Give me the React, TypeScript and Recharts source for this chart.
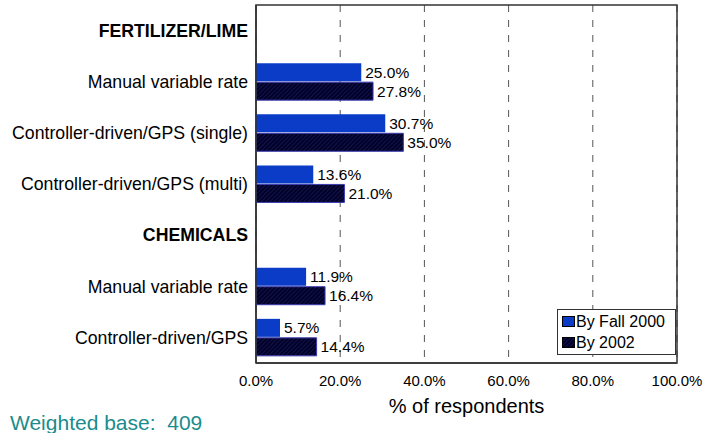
import React from 'react';
import { BarChart, Bar, XAxis, YAxis, CartesianGrid, LabelList, Legend, ReferenceArea } from 'recharts';

const categories = [
  'FERTILIZER/LIME',
  'Manual variable rate',
  'Controller-driven/GPS (single)',
  'Controller-driven/GPS (multi)',
  'CHEMICALS',
  'Manual variable rate ',
  'Controller-driven/GPS',
];
const headers = ['FERTILIZER/LIME', 'CHEMICALS'];
const byFall2000 = [null, 25.0, 30.7, 13.6, null, 11.9, 5.7];
const by2002 = [null, 27.8, 35.0, 21.0, null, 16.4, 14.4];
const xTicks = [0, 20, 40, 60, 80, 100];
const seriesNames = ['By Fall 2000', 'By 2002'];

const data = categories.map((name, i) => ({ name, fall2000: byFall2000[i], y2002: by2002[i] }));

const FONT = '"Liberation Sans", Arial, sans-serif';
const BLUE = '#0A3CC8';
const HATCH = 'url(#hatchDark)';

const pct = (v: any) => (v == null ? '' : Number(v).toFixed(1) + '%');

const YTick = (props: any) => {
  const { x, y, payload } = props;
  const isHeader = headers.includes(payload.value);
  return (
    <text x={x} y={y} dy="0.355em" textAnchor="end" fontFamily={FONT} fontSize={17.7}
      fontWeight={isHeader ? 'bold' : 'normal'} fill="#000">
      {String(payload.value).trim()}
    </text>
  );
};

const LegendContent = () => {
  const fills = [BLUE, HATCH];
  return (
    <div style={{ border: '1px solid #333', background: '#fff', width: 113, padding: '1px 0 1px 4px', fontFamily: FONT, fontSize: 16, lineHeight: '20px', boxSizing: 'content-box' }}>
      {seriesNames.map((n, i) => (
        <div key={n} style={{ display: 'flex', alignItems: 'center', height: 21 }}>
          <svg width={13} height={11} style={{ marginRight: 1 }}>
            <rect x={0.5} y={0.5} width={12} height={10} fill={fills[i]} stroke="#000" strokeWidth={1} />
          </svg>
          <span>{n}</span>
        </div>
      ))}
    </div>
  );
};

export default function App() {
  return (
    <div style={{ position: 'absolute', left: 0, top: 0, width: 705, height: 433 }}>
      <BarChart width={705} height={433} data={data} layout="vertical"
        margin={{ top: 5, right: 28, left: 0, bottom: 20 }} barSize={18} barGap={1}>
        <defs>
          <pattern id="hatchDark" patternUnits="userSpaceOnUse" width={3} height={3} patternTransform="rotate(45)">
            <rect width={3} height={3} fill="#000028" />
            <line x1={0} y1={0} x2={0} y2={3} stroke="#202060" strokeWidth={1.2} />
          </pattern>
        </defs>
        <CartesianGrid horizontal={false} stroke="#555" strokeDasharray="7 8" />
        <XAxis type="number" domain={[0, 100]} ticks={xTicks} tickFormatter={pct} tickLine={false}
          axisLine={{ stroke: '#333', strokeWidth: 1.5 }} height={50} interval={0} tickMargin={6}
          tick={{ fontFamily: FONT, fontSize: 15, fill: '#000' }}
          label={{ value: '% of respondents', position: 'insideBottom', offset: 0, fontFamily: FONT, fontSize: 20, fill: '#000' }} />
        <YAxis type="category" dataKey="name" width={256} tickLine={false} interval={0}
          axisLine={{ stroke: '#333', strokeWidth: 1.5 }} tick={<YTick />} />
        <ReferenceArea x1={0} x2={100} fill="none" stroke="#333" strokeWidth={1.5} ifOverflow="visible" />
        <Legend layout="vertical" align="center" verticalAlign="middle" content={<LegendContent />}
          wrapperStyle={{ left: 557, top: 309, width: 119, height: 46 }} />
        <Bar dataKey="fall2000" name={seriesNames[0]} fill={BLUE} isAnimationActive={false}>
          <LabelList dataKey="fall2000" position="right" offset={4} formatter={pct}
            style={{ fontFamily: FONT, fontSize: 15.5, fill: '#000' }} />
        </Bar>
        <Bar dataKey="y2002" name={seriesNames[1]} fill={HATCH} stroke="#3a3ab0" strokeWidth={1} isAnimationActive={false}>
          <LabelList dataKey="y2002" position="right" offset={4} formatter={pct}
            style={{ fontFamily: FONT, fontSize: 15.5, fill: '#000' }} />
        </Bar>
      </BarChart>
      <div style={{ position: 'absolute', left: 10, top: 411, fontFamily: FONT, fontSize: 21, lineHeight: '23px', color: '#1A8C8C', whiteSpace: 'nowrap' }}>
        Weighted base:&nbsp; 409
      </div>
    </div>
  );
}
